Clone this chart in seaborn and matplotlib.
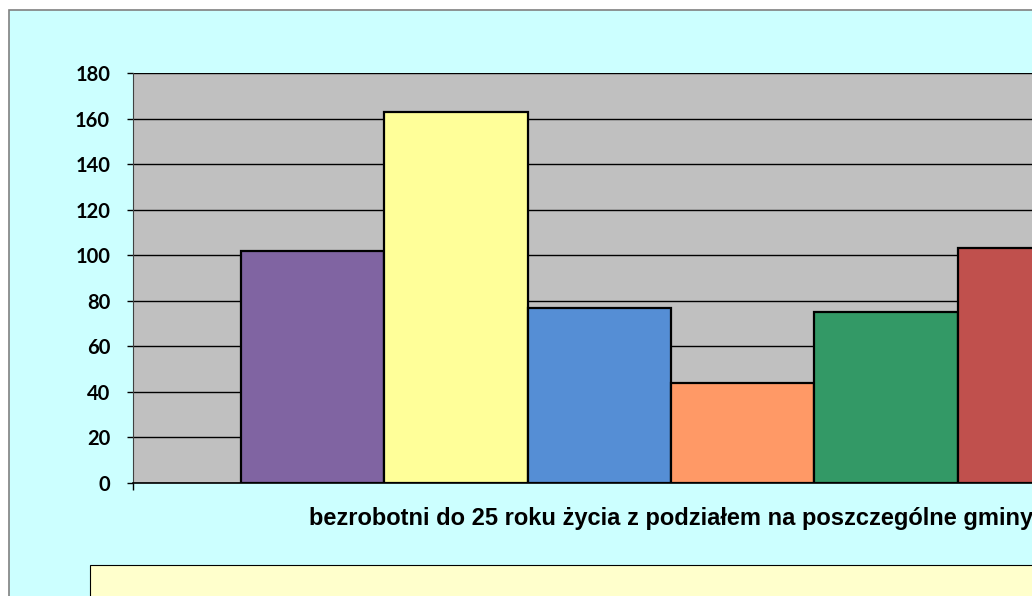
import pandas as pd
import matplotlib
matplotlib.use("Agg")
import matplotlib.pyplot as plt
import seaborn as sns
from matplotlib.patches import Rectangle

# -----------------------------
# Data
# -----------------------------
category = "bezrobotni do 25 roku życia z podziałem na poszczególne gminy"
gminy = ["gmina 1", "gmina 2", "gmina 3", "gmina 4", "gmina 5", "gmina 6"]
values = [102, 163, 77, 44, 75, 103]
colors = ["#8064A2", "#FFFF99", "#558ED5", "#FF9966", "#339966", "#C0504D"]
y_ticks = [0, 20, 40, 60, 80, 100, 120, 140, 160, 180]

df = pd.DataFrame({"kategoria": [category] * len(gminy),
                   "gmina": gminy,
                   "liczba": values})

sns.set_style("white")
plt.rcParams["font.family"] = ["Liberation Sans", "DejaVu Sans"]
plt.rcParams["text.color"] = "black"
plt.rcParams["xtick.color"] = "black"
plt.rcParams["ytick.color"] = "black"

W, H = 1032, 596
fig = plt.figure(figsize=(W / 100, H / 100), dpi=100)
fig.patch.set_facecolor("white")

# chart area background (cropped on the right / bottom)
fig.patches.append(Rectangle((9 / W, -0.1), 1.2, (H - 10) / H + 0.1,
                             transform=fig.transFigure, facecolor="#CCFFFF",
                             edgecolor="#808080", linewidth=1.2, zorder=-2))
# legend frame (content lies outside the visible area)
fig.patches.append(Rectangle((90 / W, -0.1), 1.2, (H - 565) / H + 0.1,
                             transform=fig.transFigure, facecolor="#FFFFCC",
                             edgecolor="black", linewidth=0.8, zorder=-1))

ax = fig.add_axes([133 / W, (H - 483) / H, (1209 - 133) / W, 410 / H])
ax.set_facecolor("#C0C0C0")

sns.barplot(data=df, x="kategoria", y="liczba", hue="gmina",
            palette=colors, saturation=1, width=0.8, edgecolor="black",
            linewidth=1.6, legend=False, ax=ax, zorder=3)

ax.set_xlim(-0.5, 0.5)
ax.set_ylim(0, 180)
ax.set_yticks(y_ticks)
ax.set_yticklabels([str(v) for v in y_ticks], fontfamily="Lato",
                   fontweight="bold", fontsize=14.5, color="black")
ax.yaxis.grid(True, color="black", linewidth=1.0)
ax.set_axisbelow(True)

ax.set_xlabel("")
ax.set_ylabel("")
ax.tick_params(axis="x", length=0, pad=17, labelsize=17)
for lbl in ax.get_xticklabels():
    lbl.set_fontweight("bold")
    lbl.set_color("black")
ax.set_xticks([-0.5], minor=True)
ax.tick_params(axis="x", which="minor", length=5, width=1, color="black",
               direction="out", bottom=True)
ax.tick_params(axis="y", length=4.5, width=1, color="black", direction="out",
               left=True, pad=12)

for side in ["top", "right"]:
    ax.spines[side].set_visible(False)
ax.spines["left"].set_color("#404040")
ax.spines["bottom"].set_color("black")
ax.spines["bottom"].set_linewidth(1.2)

fig.savefig("out.png", dpi=100)
